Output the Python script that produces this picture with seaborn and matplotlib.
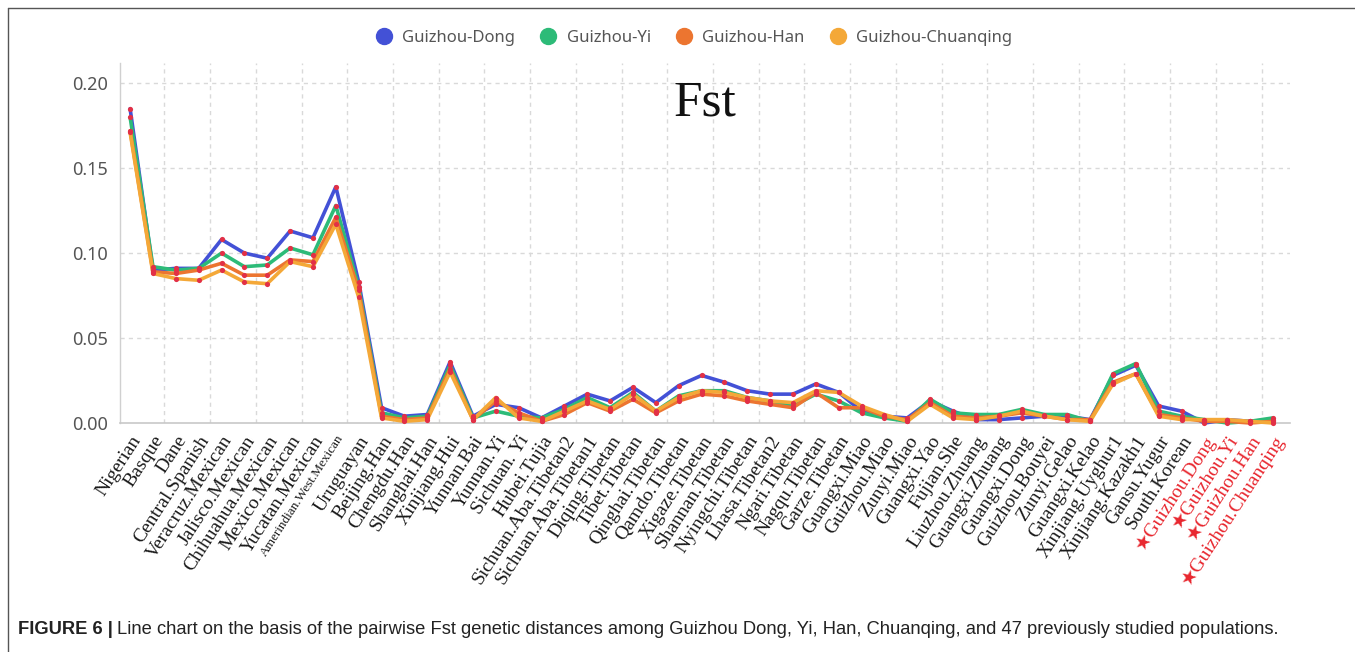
import numpy as np
import pandas as pd
import matplotlib
matplotlib.use('Agg')
import matplotlib.pyplot as plt
from matplotlib.lines import Line2D
import seaborn as sns

# Poblaciones (eje x)
poblaciones = ['Nigerian', 'Basque', 'Dane', 'Central.Spanish', 'Veracruz.Mexican', 'Jalisco.Mexican',
               'Chihuahua.Mexican', 'Mexico.Mexican', 'Yucatan.Mexican', 'Amerindian.West.Mexican',
               'Uruguayan', 'Beijing.Han', 'Chengdu.Han', 'Shanghai.Han', 'Xinjiang.Hui', 'Yunnan.Bai',
               'Yunnan.Yi', 'Sichuan. Yi', 'Hubei.Tujia', 'Sichuan.Aba.Tibetan2', 'Sichuan.Aba.Tibetan1',
               'Diqing.Tibetan', 'Tibet.Tibetan', 'Qinghai.Tibetan', 'Qamdo.Tibetan', 'Xigaze.Tibetan',
               'Shannan.Tibetan', 'Nyingchi.Tibetan', 'Lhasa.Tibetan2', 'Ngari.Tibetan', 'Nagqu.Tibetan',
               'Garze.Tibetan', 'Guangxi.Miao', 'Guizhou.Miao', 'Zunyi.Miao', 'Guangxi.Yao', 'Fujian.She',
               'Liuzhou.Zhuang', 'Guangxi.Zhuang', 'Guangxi.Dong', 'Guizhou.Bouyei', 'Zunyi.Gelao',
               'Guangxi.Kelao', 'Xinjiang.Uyghur1', 'Xinjiang.Kazakh1', 'Gansu.Yugur', 'South.Korean',
               'Guizhou.Dong', 'Guizhou.Yi', 'Guizhou.Han', 'Guizhou.Chuanqing']

# Valores Fst
fst_dong = [0.185, 0.090, 0.091, 0.091, 0.108, 0.100, 0.097, 0.113, 0.109, 0.139,
            0.083, 0.009, 0.004, 0.005, 0.036, 0.004, 0.011, 0.009, 0.003, 0.010,
            0.017, 0.013, 0.021, 0.012, 0.022, 0.028, 0.024, 0.019, 0.017, 0.017,
            0.023, 0.018, 0.007, 0.004, 0.003, 0.013, 0.007, 0.002, 0.002, 0.003,
            0.004, 0.004, 0.002, 0.028, 0.034, 0.010, 0.007, 0.000, 0.002, 0.001, 0.002]
fst_yi = [0.180, 0.092, 0.090, 0.091, 0.100, 0.092, 0.093, 0.103, 0.099, 0.128,
          0.080, 0.006, 0.003, 0.004, 0.034, 0.003, 0.007, 0.004, 0.003, 0.008,
          0.015, 0.009, 0.018, 0.007, 0.016, 0.019, 0.019, 0.015, 0.013, 0.010,
          0.017, 0.013, 0.006, 0.003, 0.001, 0.014, 0.006, 0.005, 0.005, 0.008,
          0.005, 0.005, 0.001, 0.029, 0.035, 0.007, 0.004, 0.002, 0.000, 0.001, 0.003]
fst_han = [0.172, 0.089, 0.088, 0.090, 0.094, 0.087, 0.087, 0.096, 0.095, 0.121,
           0.078, 0.004, 0.002, 0.003, 0.032, 0.002, 0.013, 0.006, 0.001, 0.005,
           0.012, 0.007, 0.014, 0.006, 0.013, 0.017, 0.016, 0.013, 0.011, 0.009,
           0.018, 0.009, 0.009, 0.004, 0.002, 0.012, 0.004, 0.003, 0.004, 0.006,
           0.004, 0.002, 0.002, 0.024, 0.029, 0.005, 0.003, 0.001, 0.001, 0.000, 0.001]
fst_chuanqing = [0.171, 0.088, 0.085, 0.084, 0.090, 0.083, 0.082, 0.095, 0.092, 0.117,
                 0.074, 0.003, 0.001, 0.002, 0.030, 0.002, 0.015, 0.003, 0.001, 0.007,
                 0.013, 0.008, 0.017, 0.007, 0.015, 0.019, 0.018, 0.015, 0.013, 0.012,
                 0.019, 0.018, 0.010, 0.005, 0.001, 0.011, 0.003, 0.002, 0.004, 0.007,
                 0.004, 0.002, 0.001, 0.023, 0.029, 0.004, 0.002, 0.002, 0.002, 0.001, 0.000]

series = ['Guizhou-Dong', 'Guizhou-Yi', 'Guizhou-Han', 'Guizhou-Chuanqing']
colores = ['#4351d6', '#2dbb78', '#ec7530', '#f4a838']

df = pd.DataFrame({'pos': np.arange(len(poblaciones)),
                   'Guizhou-Dong': fst_dong, 'Guizhou-Yi': fst_yi,
                   'Guizhou-Han': fst_han, 'Guizhou-Chuanqing': fst_chuanqing})
df_long = df.melt(id_vars='pos', var_name='grupo', value_name='fst')

sns.set_style('white')
fig = plt.figure(figsize=(13.55, 6.52), dpi=100)
ax = fig.add_axes([0.0886, 0.3512, 0.8635, 0.552])

sns.lineplot(data=df_long, x='pos', y='fst', hue='grupo', hue_order=series,
             palette=colores, linewidth=2.6, legend=False, ax=ax, clip_on=False, zorder=3)
sns.scatterplot(data=df_long, x='pos', y='fst', color='#e23046', s=14, linewidth=0,
                legend=False, ax=ax, clip_on=False, zorder=4)

ax.set_xlim(-0.44, 50.75)
ax.set_ylim(0, 0.2118)
ax.set_xlabel('')
ax.set_ylabel('')

# rejilla
ax.set_yticks([0.0, 0.05, 0.10, 0.15, 0.20])
ax.set_yticklabels(['0.00', '0.05', '0.10', '0.15', '0.20'])
for y in [0.05, 0.10, 0.15, 0.20]:
    ax.axhline(y, color='#d9d9d9', linestyle=(0, (3, 3)), linewidth=1, zorder=1)
for x in np.arange(1.5, 50, 2):
    ax.axvline(x, color='#d9d9d9', linestyle=(0, (3, 3)), linewidth=1, zorder=1)

for s in ['top', 'right']:
    ax.spines[s].set_visible(False)
ax.spines['left'].set_color('#d0d0d0')
ax.spines['bottom'].set_color('#c8c8c8')
ax.spines['left'].set_linewidth(1)
ax.spines['bottom'].set_linewidth(1.2)

ax.tick_params(axis='y', length=5, color='#c8c8c8', labelsize=13, labelcolor='#555555', pad=4)
ax.tick_params(axis='x', length=4, color='#c8c8c8', pad=3)
for lab in ax.get_yticklabels():
    lab.set_family(['Noto Sans', 'DejaVu Sans'])

etiquetas = []
for p in poblaciones:
    if p in ['Guizhou.Dong', 'Guizhou.Yi', 'Guizhou.Han', 'Guizhou.Chuanqing']:
        etiquetas.append('\u2605' + p)
    else:
        etiquetas.append(p)
ax.set_xticks(np.arange(len(poblaciones)))
ax.set_xticklabels(etiquetas, rotation=57, ha='right', va='top', rotation_mode='anchor')
for lab in ax.get_xticklabels():
    lab.set_family(['Liberation Serif', 'DejaVu Sans'])
    lab.set_fontsize(14)
    lab.set_color('#1a1a1a')
    if lab.get_text() == 'Amerindian.West.Mexican':
        lab.set_fontsize(9.5)
    if lab.get_text().startswith('\u2605'):
        lab.set_color('#e8262e')

# texto Fst
ax.text(0.5, 0.855, 'Fst', transform=ax.transAxes, ha='center', va='baseline',
        fontsize=37, family='Liberation Serif', color='#111111')

# leyenda
handles = [Line2D([0], [0], marker='o', linestyle='', markersize=11.5, color=c) for c in colores]
fig.legend(handles, series, loc='center', bbox_to_anchor=(0.509, 0.942), ncol=4, frameon=False,
           handletextpad=0.1, columnspacing=1.0, prop={'family': 'Noto Sans', 'size': 12},
           labelcolor='#555555')

# marco
fig.add_artist(Line2D([8 / 1355, 8 / 1355], [0, 1 - 8 / 652], transform=fig.transFigure,
                      color='#555555', linewidth=1))
fig.add_artist(Line2D([8 / 1355, 1], [1 - 8 / 652, 1 - 8 / 652], transform=fig.transFigure,
                      color='#555555', linewidth=1))

# pie de figura
r = fig.canvas.get_renderer()
t1 = fig.text(18 / 1355, 1 - 630 / 652, 'FIGURE 6 |', fontsize=13.2, fontweight='bold',
              family=['Liberation Sans Narrow', 'Liberation Sans'], va='center', color='#222222')
bb = t1.get_window_extent(renderer=r)
fig.text((bb.x1 + 4) / 1355, 1 - 630 / 652,
         'Line chart on the basis of the pairwise Fst genetic distances among Guizhou Dong, Yi, Han, '
         'Chuanqing, and 47 previously studied populations.',
         fontsize=13.2, family=['Liberation Sans Narrow', 'Liberation Sans'], va='center', color='#222222')

fig.savefig('out.png', dpi=100)
